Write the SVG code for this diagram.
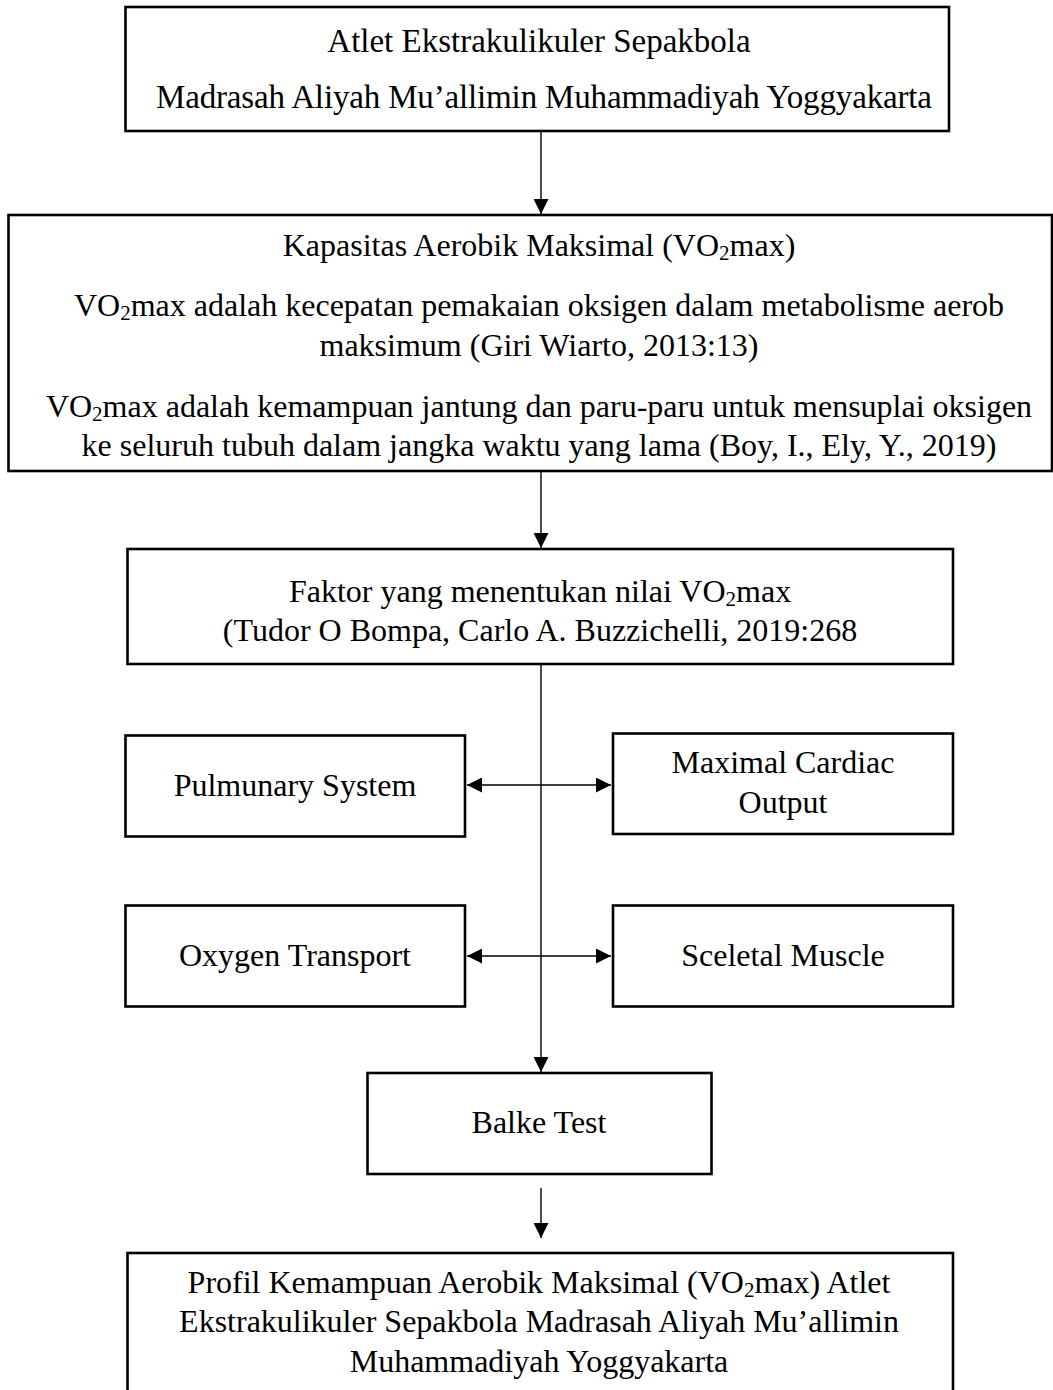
<svg xmlns="http://www.w3.org/2000/svg" width="1053" height="1390" viewBox="0 0 1053 1390">
<style>
.box{fill:#fff;stroke:#000;stroke-width:2.6}
.t{font-family:"Liberation Serif","Times New Roman",serif;font-size:32px;fill:#000;text-anchor:middle}
.sub{font-size:21px}
.c{stroke:#000;stroke-width:1.4;fill:none}
</style>
<defs>
<marker id="ah" markerUnits="userSpaceOnUse" markerWidth="15" markerHeight="15" refX="14" refY="7" orient="auto-start-reverse" viewBox="0 0 14 14">
<path d="M0,0 L14,7 L0,14 z" fill="#000"/>
</marker>
</defs>
<rect width="1053" height="1390" fill="#fff"/>
<g id="connectors">
<line class="c" x1="541" y1="132" x2="541" y2="214" marker-end="url(#ah)"/>
<line class="c" x1="541" y1="472" x2="541" y2="548" marker-end="url(#ah)"/>
<line class="c" x1="541" y1="665" x2="541" y2="1072" marker-end="url(#ah)"/>
<line class="c" x1="467" y1="785" x2="611" y2="785" marker-start="url(#ah)" marker-end="url(#ah)"/>
<line class="c" x1="467" y1="956" x2="611" y2="956" marker-start="url(#ah)" marker-end="url(#ah)"/>
<line class="c" x1="541" y1="1188" x2="541" y2="1238" marker-end="url(#ah)"/>
</g>
<g id="n1">
<rect class="box" x="125.5" y="7" width="823.5" height="124"/>
<text class="t" x="539" y="52" style="font-size:33px">Atlet Ekstrakulikuler Sepakbola</text>
<text class="t" x="156" y="108" style="font-size:33px;text-anchor:start" textLength="776">Madrasah Aliyah Mu’allimin Muhammadiyah Yoggyakarta</text>
</g>
<g id="n2">
<rect class="box" x="8.5" y="215" width="1043.5" height="256"/>
<text class="t" x="539" y="256">Kapasitas Aerobik Maksimal (VO<tspan class="sub" dy="4">2</tspan><tspan dy="-4">max)</tspan></text>
<text class="t" x="539" y="316">VO<tspan class="sub" dy="4">2</tspan><tspan dy="-4">max adalah kecepatan pemakaian oksigen dalam metabolisme aerob</tspan></text>
<text class="t" x="539" y="356">maksimum (Giri Wiarto, 2013:13)</text>
<text class="t" x="539" y="417">VO<tspan class="sub" dy="4">2</tspan><tspan dy="-4">max adalah kemampuan jantung dan paru-paru untuk mensuplai oksigen</tspan></text>
<text class="t" x="539" y="456">ke seluruh tubuh dalam jangka waktu yang lama (Boy, I., Ely, Y., 2019)</text>
</g>
<g id="n3">
<rect class="box" x="127.5" y="549" width="825.5" height="115"/>
<text class="t" x="540" y="602">Faktor yang menentukan nilai VO<tspan class="sub" dy="4">2</tspan><tspan dy="-4">max</tspan></text>
<text class="t" x="540" y="641">(Tudor O Bompa, Carlo A. Buzzichelli, 2019:268</text>
</g>
<g id="n4">
<rect class="box" x="125.5" y="735.5" width="339.5" height="101"/>
<text class="t" x="295" y="796">Pulmunary System</text>
</g>
<g id="n5">
<rect class="box" x="613" y="733.5" width="340" height="100.5"/>
<text class="t" x="783" y="773">Maximal Cardiac</text>
<text class="t" x="783" y="813">Output</text>
</g>
<g id="n6">
<rect class="box" x="125.5" y="905.5" width="339.5" height="101"/>
<text class="t" x="295" y="966">Oxygen Transport</text>
</g>
<g id="n7">
<rect class="box" x="613" y="905.5" width="340" height="101"/>
<text class="t" x="783" y="966">Sceletal Muscle</text>
</g>
<g id="n8">
<rect class="box" x="367.5" y="1073" width="344" height="101"/>
<text class="t" x="539" y="1133">Balke Test</text>
</g>
<g id="n9">
<rect class="box" x="127.5" y="1253" width="825.5" height="200"/>
<text class="t" x="539" y="1293">Profil Kemampuan Aerobik Maksimal (VO<tspan class="sub" dy="4">2</tspan><tspan dy="-4">max) Atlet</tspan></text>
<text class="t" x="539" y="1332">Ekstrakulikuler Sepakbola Madrasah Aliyah Mu’allimin</text>
<text class="t" x="539" y="1372">Muhammadiyah Yoggyakarta</text>
</g>
</svg>
